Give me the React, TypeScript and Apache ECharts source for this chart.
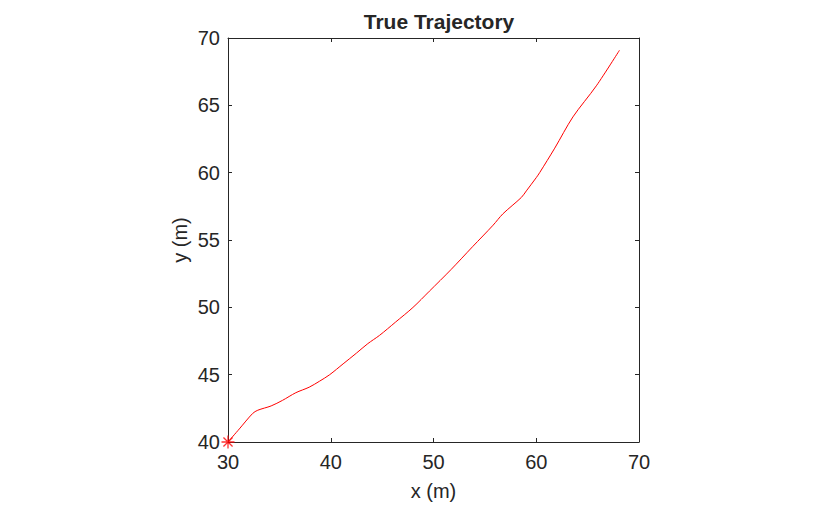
import React, { useEffect, useRef } from "react";
import * as echarts from "echarts";

const titleText = "True Trajectory";
const xName = "x (m)";
const yName = "y (m)";
const trajX = [30, 31.1, 32.4, 32.9, 34.2, 35.3, 36.6, 37.9, 38.9, 39.9, 41.2, 42.5, 43.6, 44.75, 46.3, 48.0, 49.6, 51.7, 53.8, 55.8, 56.75, 58.55, 59.04, 60.0, 60.33, 61.8, 63.57, 65.85, 68.1];
const trajY = [40, 40.97, 42.12, 42.36, 42.68, 43.09, 43.66, 44.07, 44.51, 45.0, 45.8, 46.6, 47.3, 47.92, 48.9, 49.99, 51.2, 52.8, 54.5, 56.1, 56.94, 58.16, 58.65, 59.63, 60.0, 61.82, 64.14, 66.45, 69.09];
const startX = [30];
const startY = [40];

const FONT = "'Liberation Sans', Arial, Helvetica, sans-serif";
const AX = "#262626";

export default function App() {
  const ref = useRef<HTMLDivElement>(null);
  useEffect(() => {
    if (!ref.current) return;
    const chart = echarts.init(ref.current, null, { renderer: "svg" });
    const lineData = trajX.map((x, i) => [x, trajY[i]]);
    const startData = startX.map((x, i) => [x, startY[i]]);
    const axisCommon = {
      type: "value" as const,
      axisLine: { show: true, onZero: false, lineStyle: { color: AX, width: 1 } },
      axisTick: { show: true, inside: true, length: 4, lineStyle: { color: AX } },
      splitLine: { show: false },
    };
    chart.setOption({
      animation: false,
      backgroundColor: "#ffffff",
      title: {
        text: titleText,
        left: 434,
        top: 6,
        textAlign: "center",
        textStyle: { fontFamily: FONT, fontSize: 21, fontWeight: "bold", color: AX },
      },
      grid: { left: 228, top: 38, width: 411, height: 410, containLabel: false },
      xAxis: [
        {
          ...axisCommon,
          position: "bottom",
          min: 30,
          max: 70,
          interval: 10,
          axisLabel: { show: true, margin: 10, fontFamily: FONT, fontSize: 20, color: AX },
          name: xName,
          nameLocation: "middle",
          nameGap: 39,
          nameTextStyle: { fontFamily: FONT, fontSize: 20, color: AX },
        },
        {
          ...axisCommon,
          position: "top",
          min: 30,
          max: 70,
          interval: 10,
          axisLabel: { show: false },
        },
      ],
      yAxis: [
        {
          ...axisCommon,
          position: "left",
          min: 40,
          max: 70,
          interval: 5,
          axisLabel: { show: true, margin: 8, fontFamily: FONT, fontSize: 20, color: AX },
          name: yName,
          nameLocation: "middle",
          nameGap: 38,
          nameRotate: 90,
          nameTextStyle: { fontFamily: FONT, fontSize: 20, color: AX },
        },
        {
          ...axisCommon,
          position: "right",
          min: 40,
          max: 70,
          interval: 5,
          axisLabel: { show: false },
        },
      ],
      series: [
        {
          type: "line",
          data: lineData,
          xAxisIndex: 0,
          yAxisIndex: 0,
          showSymbol: false,
          symbol: "none",
          smooth: 0.3,
          lineStyle: { color: "#ff0000", width: 1 },
          clip: false,
        },
        {
          type: "scatter",
          data: startData,
          xAxisIndex: 0,
          yAxisIndex: 0,
          symbol: "path://M0,-6L0,6M-6,0L6,0M-4.2,-4.2L4.2,4.2M-4.2,4.2L4.2,-4.2",
          symbolSize: 13,
          itemStyle: { color: "none", borderColor: "#ff0000", borderWidth: 1.3 },
          clip: false,
          z: 5,
        },
      ],
    });
    return () => chart.dispose();
  }, []);
  return (
    <div
      ref={ref}
      style={{ position: "fixed", left: 0, top: 0, width: 840, height: 506, background: "#fff" }}
    />
  );
}
